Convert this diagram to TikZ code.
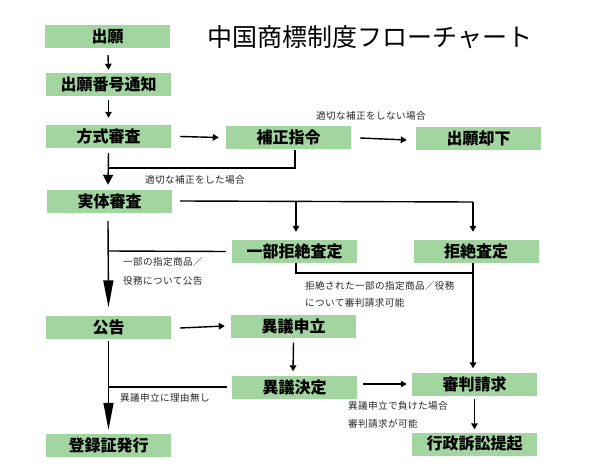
\documentclass[tikz,border=0pt]{standalone}
\usepackage{fontspec}
\newfontfamily\jp{Noto Sans CJK JP}
\newfontfamily\jplbl[LetterSpace=4]{Noto Sans CJK JP}
\usetikzlibrary{arrows.meta}
\definecolor{boxgreen}{HTML}{A3D5A0}
\begin{document}
\begin{tikzpicture}[x=1pt,y=-1pt,
  box/.style={fill=boxgreen,draw=none,minimum width=125pt,minimum height=23pt,inner sep=0pt,font=\jp\bfseries\fontsize{16}{16}\selectfont},
  lbl/.style={anchor=west,inner sep=0pt,text=black!85,font=\jplbl\fontsize{9.6}{10}\selectfont},
  ln/.style={line width=1.4pt},
  arr/.style={line width=1.4pt,-{Triangle[length=6pt,width=6.5pt]}},
  bigarr/.style={line width=1.4pt,-{Triangle[length=27pt,width=10pt]}},
  midarr/.style={line width=1.4pt,-{Triangle[length=10pt,width=10pt]}}]
\useasboundingbox (0,0) rectangle (591,473);
\node[font=\jp\fontsize{25}{25}\selectfont,inner sep=0pt] (title) at (370,37) {中国商標制度フローチャート};
\node[box] (b1) at (107.5,36.5) {出願};
\node[box] (b2) at (108.5,84.5) {出願番号通知};
\node[box] (b3) at (108.5,136.5) {方式審査};
\node[box] (b4) at (288.5,137.5) {補正指令};
\node[box] (b5) at (478.5,138.5) {出願却下};
\node[box] (b6) at (109.5,201.5) {実体審査};
\node[box] (b7) at (294.5,251.5) {一部拒絶査定};
\node[box] (b8) at (476,251.5) {拒絶査定};
\node[box] (b9) at (108.5,327) {公告};
\node[box] (b10) at (293.5,326) {異議申立};
\node[box] (b11) at (294.5,387) {異議決定};
\node[box] (b12) at (474.5,384) {審判請求};
\node[box] (b13) at (108.5,445.5) {登録証発行};
\node[box] (b14) at (474.5,444) {行政訴訟提起};
% coordinates
\coordinate (c1) at (108,168);
\coordinate (c2) at (296,202);
\coordinate (c3) at (473,202);
\coordinate (c4) at (108,251);
\coordinate (c5) at (296,273);
\coordinate (c6) at (473,273);
\coordinate (c7) at (108,387);
% arrows
\draw[arr] ([xshift=0.5pt,yshift=-7pt]b1.south) -- ([yshift=3pt]b2.north);
\draw[arr] ([yshift=-4pt]b2.south) -- ([yshift=7pt]b3.north);
\draw[arr] ([xshift=9pt]b3.east) -- ([xshift=-7pt]b4.west);
\draw[arr] ([xshift=9pt,yshift=-0.5pt]b4.east) -- ([xshift=-9pt,yshift=-1.5pt]b5.west);
\draw[midarr] ([yshift=-5pt]b3.south) -- ([xshift=-1.5pt,yshift=5pt]b6.north);
\draw[ln] ([xshift=6.5pt,yshift=-1pt]b4.south) |- (c1);
\draw[ln] ([xshift=8pt,yshift=0.5pt]b6.east) -- (c3);
\draw[arr] (c2) -- ([xshift=1.5pt,yshift=8pt]b7.north);
\draw[arr] (c3) -- ([xshift=-3pt,yshift=8pt]b8.north);
\draw[bigarr] ([xshift=-1.5pt,yshift=-8pt]b6.south) -- ([yshift=8pt]b9.north);
\draw[ln] ([xshift=-6pt]b7.west) -- (c4);
\draw[ln] ([xshift=1.5pt]b7.south) |- (c6);
\draw[arr] ([xshift=-3pt]b8.south) -- ([xshift=-1.5pt,yshift=4pt]b12.north);
\draw[arr] ([xshift=9pt,yshift=-1pt]b9.east) -- ([xshift=-6pt]b10.west);
\draw[arr] ([yshift=-5pt]b10.south) -- ([xshift=-1.5pt,yshift=4pt]b11.north);
\draw[bigarr] ([yshift=-2pt]b9.south) -- ([yshift=4pt]b13.north);
\draw[ln] ([xshift=-5pt]b11.west) -- (c7);
\draw[arr] ([xshift=6pt,yshift=3pt]b11.east) -- ([xshift=-5pt]b12.west);
\draw[arr] ([yshift=-3pt]b12.south) -- ([yshift=3pt]b14.north);
% labels
\node[lbl] (l1) at (316,116) {適切な補正をしない場合};
\node[lbl] (l2) at (145,180) {適切な補正をした場合};
\node[lbl] (l3) at (123,262) {一部の指定商品／};
\node[lbl] (l4) at (123,281) {役務について公告};
\node[lbl] (l5) at (305,286) {拒絶された一部の指定商品／役務};
\node[lbl] (l6) at (305,303) {について審判請求可能};
\node[lbl] (l7) at (120,398) {異議申立に理由無し};
\node[lbl] (l8) at (348,406) {異議申立で負けた場合};
\node[lbl] (l9) at (348,424) {審判請求が可能};
\end{tikzpicture}
\end{document}
